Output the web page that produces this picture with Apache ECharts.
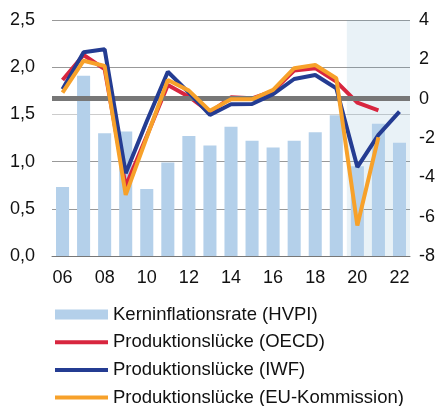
<!DOCTYPE html>
<html>
<head>
<meta charset="utf-8">
<script src="https://cdn.jsdelivr.net/npm/echarts@6/dist/echarts.min.js"></script>
<style>
html,body{margin:0;padding:0;background:#fff;}
#chart{width:441px;height:406px;}
</style>
</head>
<body>
<div id="chart"></div>
<script>
const categories = ['06','07','08','09','10','11','12','13','14','15','16','17','18','19','20','21','22'];
const kerninflation = [0.73,1.91,1.30,1.32,0.71,0.99,1.27,1.17,1.37,1.22,1.15,1.22,1.31,1.49,0.95,1.40,1.20];
const oecd = [0.95,2.22,1.50,-4.46,-1.90,0.70,0.10,-0.70,0.07,0.02,0.38,1.43,1.55,0.87,-0.20,-0.60,null];
const iwf = [0.48,2.36,2.51,-3.79,-1.15,1.37,0.31,-0.83,-0.28,-0.27,0.23,1.00,1.20,0.53,-3.48,-1.84,-0.66];
const eu = [0.31,1.93,1.66,-4.89,-1.96,0.95,0.41,-0.62,-0.03,-0.03,0.45,1.55,1.71,1.04,-6.45,-1.96,null];
const leftTicks = {min:0, max:2.5, interval:0.5};
const rightTicks = {min:-8, max:4, interval:2};
const names = ['Kerninflationsrate (HVPI)','Produktionslücke (OECD)','Produktionslücke (IWF)','Produktionslücke (EU-Kommission)'];

const font = 'Liberation Sans, Arial, sans-serif';
const chart = echarts.init(document.getElementById('chart'), null, {renderer:'canvas'});
const hideDot = {opacity:0};
const legLine = {width:4};
chart.setOption({
  animation:false,
  textStyle:{fontFamily:font},
  grid:{left:52,right:31,top:20,bottom:150},
  legend:{
    orient:'vertical', left:53, top:305, height:110, padding:0,
    itemWidth:53, itemHeight:10, itemGap:8.7,
    textStyle:{fontFamily:font,fontSize:18.5,color:'#111',lineHeight:18},
    data:[
      {name:names[0], icon:'rect'},
      {name:names[1], itemStyle:hideDot, lineStyle:legLine},
      {name:names[2], itemStyle:hideDot, lineStyle:legLine},
      {name:names[3], itemStyle:hideDot, lineStyle:legLine}
    ]
  },
  xAxis:[{
    type:'category', data:categories,
    axisLine:{show:true,lineStyle:{color:'#777',width:1}},
    axisTick:{show:false},
    axisLabel:{interval:1,fontSize:18,color:'#111',fontFamily:font,margin:13}
  },{
    type:'value', min:-0.5, max:16.5, show:false
  }],
  yAxis:[{
    type:'value', min:leftTicks.min, max:leftTicks.max, interval:leftTicks.interval,
    axisLine:{show:false}, axisTick:{show:false},
    axisLabel:{fontSize:18,color:'#111',fontFamily:font,margin:17,formatter:v=>v.toFixed(1).replace('.',',')},
    splitLine:{show:true,lineStyle:{color:['#999','#999','#999','#ccc','#999','#999'],width:1}}
  },{
    type:'value', min:rightTicks.min, max:rightTicks.max, interval:rightTicks.interval,
    axisLine:{show:false}, axisTick:{show:false},
    axisLabel:{fontSize:18,color:'#111',fontFamily:font,margin:9,align:'left'},
    splitLine:{show:false}
  }],
  series:[
    {name:names[0], type:'bar', data:kerninflation, barWidth:'62%', z:2,
     itemStyle:{color:'#b4d0ea'}},
    {name:'zero', type:'line', xAxisIndex:1, yAxisIndex:1, data:[], z:3, silent:true,
     markLine:{silent:true, symbol:'none', label:{show:false},
       lineStyle:{color:'#777',width:5,type:'solid'}, data:[{yAxis:0}]}},
    {name:names[1], type:'line', yAxisIndex:1, data:oecd, symbol:'none', z:4,
     lineStyle:{color:'#d8263f',width:4}, itemStyle:{color:'#d8263f'}},
    {name:names[2], type:'line', yAxisIndex:1, data:iwf, symbol:'none', z:5,
     lineStyle:{color:'#243c92',width:4}, itemStyle:{color:'#243c92'}},
    {name:names[3], type:'line', yAxisIndex:1, data:eu, symbol:'none', z:6,
     lineStyle:{color:'#f7a12a',width:4}, itemStyle:{color:'#f7a12a'}},
    {name:'shade', type:'line', xAxisIndex:1, yAxisIndex:0, data:[], z:10, silent:true,
     markArea:{silent:true, itemStyle:{color:'rgba(100,165,200,0.14)'},
       data:[[{xAxis:13.5},{xAxis:16.5}]]}}
  ]
});
</script>
</body>
</html>
